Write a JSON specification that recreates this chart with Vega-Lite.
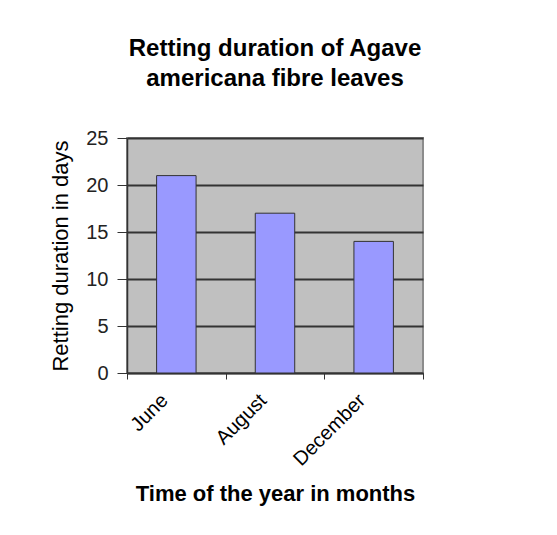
{
  "$schema": "https://vega.github.io/schema/vega-lite/v6.json",
  "width": 296,
  "height": 235,
  "autosize": {"type": "none"},
  "padding": {"left": 127, "top": 138, "right": 134, "bottom": 162},
  "background": "white",
  "title": {
    "text": ["Retting duration of Agave", "americana fibre leaves"],
    "font": "Liberation Sans",
    "fontSize": 24,
    "fontWeight": "bold",
    "color": "black",
    "lineHeight": 30,
    "offset": 37,
    "anchor": "middle"
  },
  "data": {
    "values": [
      {"month": "June", "days": 21},
      {"month": "August", "days": 17},
      {"month": "December", "days": 14}
    ]
  },
  "mark": {"type": "bar", "width": {"band": 0.4}, "color": "#9999FF", "stroke": "#333333", "strokeWidth": 1},
  "encoding": {
    "x": {
      "field": "month",
      "type": "nominal",
      "sort": null,
      "scale": {"paddingInner": 0, "paddingOuter": 0},
      "axis": {
        "title": "Time of the year in months",
        "titleFont": "Liberation Sans",
        "titleFontSize": 22,
        "titleFontWeight": "bold",
        "titleColor": "black",
        "titlePadding": 14,
        "labelAngle": -45,
        "labelAlign": "right",
        "labelBaseline": "middle",
        "labelFont": "Liberation Sans",
        "labelFontSize": 20,
        "labelColor": "black",
        "labelPadding": 18,
        "labelOffset": -12,
        "tickBand": "extent",
        "tickSize": 6,
        "tickColor": "#333333",
        "domainColor": "#333333",
        "domainWidth": 1.5,
        "grid": false
      }
    },
    "y": {
      "field": "days",
      "type": "quantitative",
      "scale": {"domain": [0, 25]},
      "axis": {
        "title": "Retting duration in days",
        "titleFont": "Liberation Sans",
        "titleFontSize": 22,
        "titleFontWeight": "normal",
        "titleColor": "black",
        "titlePadding": 13,
        "values": [0, 5, 10, 15, 20, 25],
        "labelFont": "Liberation Sans",
        "labelFontSize": 20,
        "labelColor": "#222222",
        "labelPadding": 9,
        "tickSize": 10,
        "tickColor": "#333333",
        "domainColor": "#333333",
        "domainWidth": 1.5,
        "grid": true,
        "gridColor": "#333333",
        "gridWidth": 2
      }
    }
  },
  "config": {
    "view": {"fill": "#C0C0C0", "stroke": "#8C8C8C", "strokeWidth": 2}
  }
}
